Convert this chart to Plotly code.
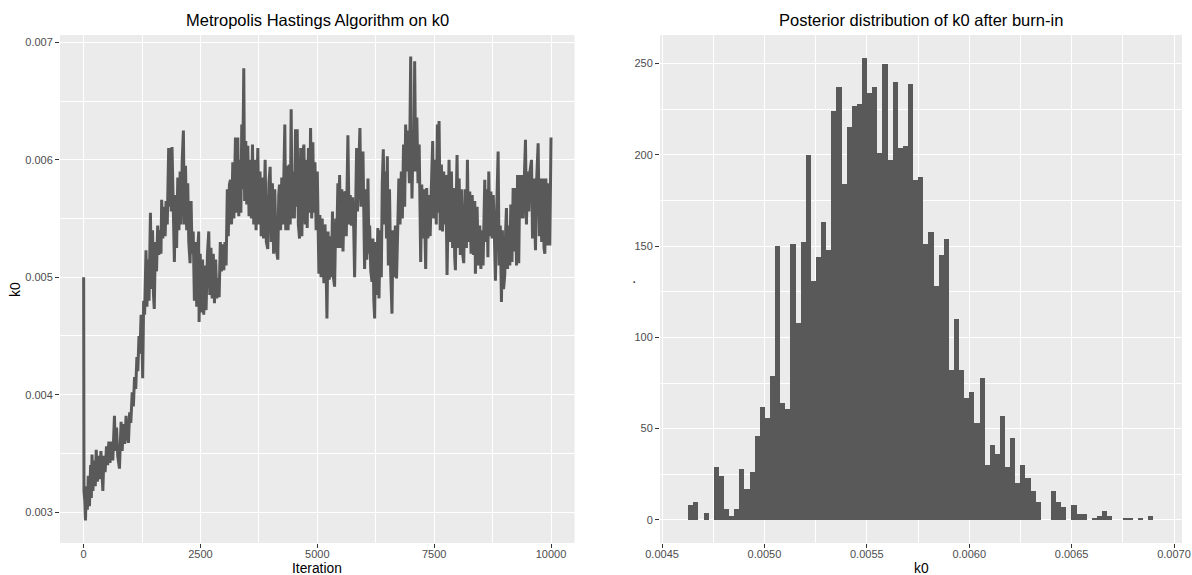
import plotly.graph_objects as go

# ---------------- data ----------------
iteration = [
    1, 3, 8, 25, 40, 60, 80, 100, 125, 150, 165, 180, 200, 225, 250, 270, 295, 320, 345, 370,
    395, 412, 435, 460, 490, 515, 540, 565, 595, 625, 660, 680, 705, 730, 767, 785, 802, 825, 850, 880,
    909, 935, 959, 985, 1010, 1040, 1065, 1090, 1115, 1140, 1160, 1185, 1205, 1230, 1250, 1264, 1285, 1305, 1335, 1355,
    1380, 1400, 1430, 1450, 1475, 1495, 1512, 1535, 1560, 1585, 1610, 1635, 1656, 1670, 1695, 1720, 1745, 1764, 1790, 1820,
    1838, 1856, 1875, 1892, 1915, 1942, 1965, 1990, 2015, 2040, 2065, 2085, 2110, 2135, 2155, 2180, 2205, 2228, 2250, 2278,
    2300, 2320, 2345, 2370, 2395, 2420, 2445, 2463, 2471, 2495, 2520, 2545, 2570, 2595, 2620, 2650, 2678, 2700, 2725, 2750,
    2775, 2800, 2825, 2850, 2875, 2900, 2925, 2950, 2975, 3000, 3025, 3049, 3075, 3095, 3120, 3142, 3165, 3192, 3215, 3249,
    3270, 3299, 3320, 3350, 3365, 3384, 3400, 3427, 3445, 3470, 3490, 3513, 3540, 3565, 3590, 3613, 3640, 3665, 3690, 3727,
    3750, 3775, 3800, 3825, 3850, 3884, 3910, 3941, 3965, 3991, 4015, 4040, 4065, 4090, 4120, 4155, 4175, 4191, 4215, 4240,
    4265, 4285, 4305, 4325, 4350, 4375, 4400, 4420, 4441, 4460, 4490, 4510, 4534, 4550, 4570, 4595, 4620, 4645, 4670, 4690,
    4713, 4740, 4760, 4784, 4810, 4834, 4856, 4880, 4905, 4925, 4950, 4975, 5000, 5034, 5055, 5080, 5105, 5141, 5165, 5190,
    5206, 5230, 5255, 5280, 5300, 5325, 5345, 5370, 5395, 5415, 5440, 5460, 5477, 5500, 5525, 5550, 5575, 5598, 5620, 5655,
    5680, 5705, 5730, 5755, 5780, 5798, 5820, 5841, 5860, 5885, 5912, 5935, 5955, 5977, 5995, 6012, 6035, 6060, 6084, 6105,
    6120, 6145, 6170, 6190, 6210, 6227, 6245, 6270, 6295, 6320, 6345, 6369, 6390, 6412, 6435, 6460, 6480, 6498, 6520, 6545,
    6570, 6598, 6620, 6645, 6670, 6695, 6720, 6745, 6770, 6798, 6820, 6845, 6869, 6890, 6915, 6941, 6970, 6998, 7015, 7026,
    7050, 7070, 7083, 7105, 7130, 7155, 7180, 7212, 7235, 7260, 7285, 7319, 7340, 7365, 7390, 7415, 7440, 7469, 7490, 7520,
    7545, 7569, 7585, 7605, 7630, 7655, 7680, 7705, 7726, 7750, 7776, 7800, 7819, 7845, 7869, 7895, 7920, 7940, 7955, 7975,
    7990, 8012, 8035, 8060, 8083, 8110, 8133, 8160, 8190, 8212, 8235, 8262, 8290, 8315, 8340, 8369, 8383, 8405, 8419, 8445,
    8476, 8500, 8525, 8547, 8583, 8605, 8630, 8650, 8669, 8690, 8715, 8740, 8765, 8790, 8811, 8840, 8869, 8890, 8915, 8940,
    8960, 8985, 9011, 9030, 9047, 9070, 9095, 9119, 9140, 9165, 9190, 9215, 9240, 9262, 9285, 9310, 9333, 9355, 9380, 9404,
    9430, 9454, 9475, 9500, 9525, 9550, 9583, 9605, 9630, 9655, 9668, 9690, 9725, 9750, 9775, 9800, 9825, 9850, 9868, 9890,
    9915, 9940, 9975, 10000,
]

k0 = [
    0.00500, 0.00417, 0.00318, 0.00310, 0.00293, 0.00322, 0.00302, 0.00331, 0.00305, 0.00340, 0.00312, 0.00349, 0.00318, 0.00344, 0.00322, 0.00353, 0.00326, 0.00348, 0.00328, 0.00352,
    0.00332, 0.00318, 0.00348, 0.00334, 0.00356, 0.00340, 0.00360, 0.00342, 0.00360, 0.00344, 0.00382, 0.00352, 0.00372, 0.00348, 0.00337, 0.00370, 0.00377, 0.00352, 0.00375, 0.00358,
    0.00382, 0.00365, 0.00359, 0.00385, 0.00376, 0.00402, 0.00390, 0.00415, 0.00405, 0.00432, 0.00420, 0.00450, 0.00435, 0.00468, 0.00450, 0.00414, 0.00480, 0.00468, 0.00523, 0.00475,
    0.00515, 0.00480, 0.00555, 0.00490, 0.00540, 0.00485, 0.00473, 0.00530, 0.00505, 0.00544, 0.00519, 0.00540, 0.00520, 0.00566, 0.00533, 0.00560, 0.00535, 0.00565, 0.00545, 0.00610,
    0.00560, 0.00610, 0.00556, 0.00611, 0.00560, 0.00513, 0.00570, 0.00525, 0.00585, 0.00540, 0.00590, 0.00545, 0.00600, 0.00625, 0.00545, 0.00595, 0.00540, 0.00580, 0.00530, 0.00512,
    0.00565, 0.00520, 0.00539, 0.00480, 0.00530, 0.00475, 0.00525, 0.00539, 0.00462, 0.00520, 0.00470, 0.00515, 0.00468, 0.00510, 0.00472, 0.00520, 0.00539, 0.00485, 0.00525, 0.00482,
    0.00520, 0.00478, 0.00515, 0.00482, 0.00499, 0.00483, 0.00530, 0.00505, 0.00528, 0.00506, 0.00530, 0.00510, 0.00575, 0.00535, 0.00579, 0.00583, 0.00545, 0.00598, 0.00550, 0.00619,
    0.00555, 0.00619, 0.00552, 0.00600, 0.00555, 0.00630, 0.00575, 0.00678, 0.00565, 0.00616, 0.00562, 0.00612, 0.00552, 0.00600, 0.00550, 0.00613, 0.00545, 0.00600, 0.00540, 0.00610,
    0.00545, 0.00590, 0.00535, 0.00585, 0.00533, 0.00600, 0.00530, 0.00524, 0.00580, 0.00594, 0.00530, 0.00580, 0.00520, 0.00575, 0.00525, 0.00515, 0.00570, 0.00579, 0.00540, 0.00585,
    0.00545, 0.00590, 0.00630, 0.00540, 0.00595, 0.00540, 0.00596, 0.00545, 0.00643, 0.00550, 0.00590, 0.00550, 0.00626, 0.00560, 0.00626, 0.00545, 0.00533, 0.00610, 0.00535, 0.00605,
    0.00613, 0.00545, 0.00600, 0.00542, 0.00610, 0.00555, 0.00627, 0.00550, 0.00615, 0.00555, 0.00598, 0.00540, 0.00590, 0.00503, 0.00553, 0.00500, 0.00550, 0.00495, 0.00545, 0.00505,
    0.00465, 0.00539, 0.00498, 0.00535, 0.00500, 0.00556, 0.00500, 0.00492, 0.00550, 0.00525, 0.00580, 0.00525, 0.00587, 0.00525, 0.00575, 0.00522, 0.00570, 0.00573, 0.00535, 0.00621,
    0.00545, 0.00570, 0.00544, 0.00568, 0.00540, 0.00500, 0.00580, 0.00610, 0.00556, 0.00600, 0.00627, 0.00560, 0.00600, 0.00607, 0.00530, 0.00507, 0.00575, 0.00515, 0.00584, 0.00520,
    0.00544, 0.00505, 0.00496, 0.00533, 0.00480, 0.00465, 0.00530, 0.00485, 0.00542, 0.00482, 0.00540, 0.00500, 0.00580, 0.00609, 0.00545, 0.00590, 0.00533, 0.00603, 0.00510, 0.00575,
    0.00505, 0.00469, 0.00540, 0.00500, 0.00544, 0.00499, 0.00540, 0.00584, 0.00545, 0.00590, 0.00550, 0.00613, 0.00560, 0.00630, 0.00590, 0.00625, 0.00580, 0.00688, 0.00600, 0.00567,
    0.00620, 0.00590, 0.00684, 0.00590, 0.00636, 0.00580, 0.00613, 0.00513, 0.00579, 0.00533, 0.00575, 0.00507, 0.00576, 0.00533, 0.00570, 0.00535, 0.00576, 0.00616, 0.00550, 0.00600,
    0.00545, 0.00630, 0.00555, 0.00633, 0.00540, 0.00596, 0.00539, 0.00590, 0.00545, 0.00587, 0.00502, 0.00580, 0.00600, 0.00530, 0.00590, 0.00525, 0.00576, 0.00517, 0.00506, 0.00570,
    0.00604, 0.00525, 0.00584, 0.00519, 0.00575, 0.00520, 0.00512, 0.00575, 0.00525, 0.00600, 0.00530, 0.00573, 0.00520, 0.00570, 0.00519, 0.00565, 0.00503, 0.00550, 0.00560, 0.00510,
    0.00544, 0.00507, 0.00540, 0.00510, 0.00583, 0.00530, 0.00575, 0.00517, 0.00590, 0.00535, 0.00573, 0.00533, 0.00570, 0.00533, 0.00497, 0.00560, 0.00607, 0.00510, 0.00544, 0.00479,
    0.00540, 0.00490, 0.00502, 0.00540, 0.00559, 0.00507, 0.00544, 0.00510, 0.00562, 0.00513, 0.00576, 0.00522, 0.00576, 0.00510, 0.00587, 0.00512, 0.00587, 0.00550, 0.00587, 0.00550,
    0.00600, 0.00617, 0.00545, 0.00590, 0.00556, 0.00590, 0.00600, 0.00533, 0.00584, 0.00535, 0.00523, 0.00580, 0.00614, 0.00535, 0.00584, 0.00530, 0.00584, 0.00525, 0.00520, 0.00584,
    0.00527, 0.00580, 0.00527, 0.00619,
]

# histogram of k0 after burn-in (counts per bin)
bin_start = 0.004628
bin_width = 0.00002495
counts = [
    8, 10, 0, 4, 0, 29, 24, 6, 2, 6,
    28, 17, 26, 46, 62, 56, 79, 150, 64, 61,
    151, 108, 152, 200, 131, 144, 163, 148, 224, 237,
    184, 215, 227, 228, 253, 234, 237, 201, 250, 197,
    240, 204, 205, 239, 186, 188, 151, 158, 128, 145,
    154, 82, 110, 82, 67, 70, 53, 78, 30, 41,
    36, 57, 29, 45, 20, 30, 23, 16, 10, 0,
    0, 16, 10, 7, 0, 8, 3, 3, 0, 1,
    2, 5, 2, 0, 0, 1, 1, 0, 1, 0,
    2,
]

left_x_ticks = [0, 2500, 5000, 7500, 10000]
left_y_ticks = [0.003, 0.004, 0.005, 0.006, 0.007]
left_y_labels = ["0.003", "0.004", "0.005", "0.006", "0.007"]
right_x_ticks = [0.0045, 0.0050, 0.0055, 0.0060, 0.0065, 0.0070]
right_x_labels = ["0.0045", "0.0050", "0.0055", "0.0060", "0.0065", "0.0070"]
right_y_ticks = [0, 50, 100, 150, 200, 250]

# ---------------- figure ----------------
W, H = 1192, 575
FONT = "Liberation Sans, Arial, sans-serif"
BAR = "#595959"
PANEL = "#EBEBEB"

bin_centers = [bin_start + (i + 0.5) * bin_width for i in range(len(counts))]

fig = go.Figure()
fig.add_trace(go.Scatter(
    x=iteration, y=k0, mode="lines",
    line=dict(color=BAR, width=3.0),
    xaxis="x", yaxis="y", showlegend=False, hoverinfo="skip",
))
fig.add_trace(go.Bar(
    x=bin_centers, y=counts, width=bin_width,
    marker=dict(color=BAR, line=dict(width=0)),
    xaxis="x2", yaxis="y2", showlegend=False,
))

def px_x(p):
    return p / W

def px_y(p):
    return 1 - p / H

ydom = [px_y(543), px_y(35)]

common = dict(
    showline=False, zeroline=False, showgrid=True, automargin=False,
    gridcolor="white", gridwidth=1.1,
    ticks="outside", ticklen=4, tickwidth=1.1, tickcolor="#333333",
    tickfont=dict(family=FONT, size=11, color="#4D4D4D"),
    layer="below traces",
)

fig.update_layout(
    width=W, height=H,
    margin=dict(l=0, r=0, t=0, b=0, autoexpand=False),
    paper_bgcolor="white", plot_bgcolor=PANEL,
    bargap=0, showlegend=False,
    font=dict(family=FONT),
    xaxis=dict(domain=[px_x(60), px_x(574.6)], anchor="y",
               range=[-505, 10505], tickvals=left_x_ticks,
               ticktext=[str(v) for v in left_x_ticks], ticklabelstandoff=-3,
               minor=dict(tickvals=[1250, 3750, 6250, 8750], showgrid=True,
                          gridcolor="white", gridwidth=0.5, ticks=""),
               **common),
    yaxis=dict(domain=ydom, anchor="x",
               range=[0.002737, 0.007063], tickvals=left_y_ticks, ticktext=left_y_labels,
               minor=dict(tickvals=[0.0035, 0.0045, 0.0055, 0.0065], showgrid=True,
                          gridcolor="white", gridwidth=0.5, ticks=""),
               **common),
    xaxis2=dict(domain=[px_x(660), px_x(1182)], anchor="y2",
                range=[0.00449, 0.007039], tickvals=right_x_ticks, ticktext=right_x_labels,
                ticklabelstandoff=-3,
                minor=dict(tickvals=[0.00475, 0.00525, 0.00575, 0.00625, 0.00675], showgrid=True,
                           gridcolor="white", gridwidth=0.5, ticks=""),
                **common),
    yaxis2=dict(domain=ydom, anchor="x2",
                range=[-12.65, 265.65], tickvals=right_y_ticks,
                ticktext=[str(v) for v in right_y_ticks],
                minor=dict(tickvals=[25, 75, 125, 175, 225], showgrid=True,
                           gridcolor="white", gridwidth=0.5, ticks=""),
                **common),
)

ann = []
ann.append(dict(text="Metropolis Hastings Algorithm on k0", x=px_x(317.3), y=px_y(20),
                font=dict(family=FONT, size=16.5, color="black")))
ann.append(dict(text="Posterior distribution of k0 after burn-in", x=px_x(921), y=px_y(20),
                font=dict(family=FONT, size=16.5, color="black")))
ann.append(dict(text="Iteration", x=px_x(317.3), y=px_y(568),
                font=dict(family=FONT, size=13.8, color="black")))
ann.append(dict(text="k0", x=px_x(921), y=px_y(568),
                font=dict(family=FONT, size=13.8, color="black")))
ann.append(dict(text="k0", x=px_x(15), y=px_y(289), textangle=-90,
                font=dict(family=FONT, size=13.8, color="black")))
ann.append(dict(text=".", x=px_x(630), y=px_y(282), textangle=-90,
                font=dict(family=FONT, size=13.8, color="black")))
for a in ann:
    a.update(xref="paper", yref="paper", showarrow=False, xanchor="center", yanchor="middle")
fig.update_layout(annotations=ann)

fig.write_html("out.html")
